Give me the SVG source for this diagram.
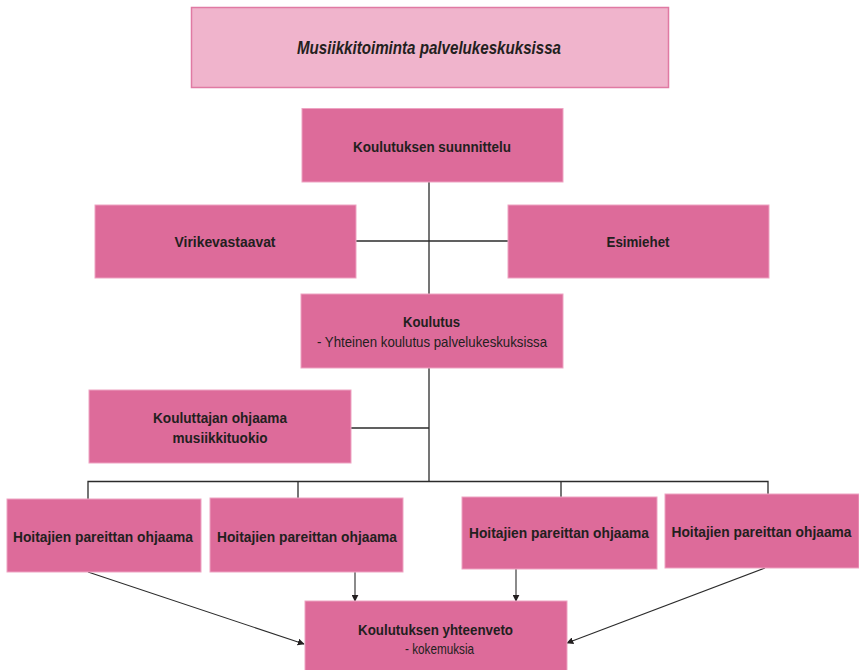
<svg xmlns="http://www.w3.org/2000/svg" width="859" height="670" viewBox="0 0 859 670">
<style>
.box{fill:#dd6b9a;stroke:#eea3c2;stroke-width:1}
.title{fill:#f0b4cc;stroke:#e07aa3;stroke-width:1.5}
text{font-family:"Liberation Sans",Arial,sans-serif;fill:#231f20;text-anchor:middle;font-size:15px}
.b{font-weight:bold}
.t{font-weight:bold;font-style:italic;font-size:18px}
.ln{stroke:#2b2b2b;stroke-width:1.3;fill:none}
.ar{stroke:#2b2b2b;stroke-width:1.1;fill:none;marker-end:url(#ah)}
</style>
<defs>
<marker id="ah" viewBox="0 0 10 10" refX="9" refY="5" markerWidth="7" markerHeight="7" markerUnits="userSpaceOnUse" orient="auto">
<path d="M0,0 L10,5 L0,10 z" fill="#231f20"/>
</marker>
</defs>
<g id="connectors">
<path class="ln" d="M429,182 V481"/>
<path class="ln" d="M356,241 H508"/>
<path class="ln" d="M351,428 H429"/>
<path class="ln" d="M88,499 V481.5 H768 V494"/>
<path class="ln" d="M298,481.5 V498"/>
<path class="ln" d="M561,481.5 V497"/>
<path class="ar" d="M88,572 L304,644"/>
<path class="ar" d="M355,572 V601"/>
<path class="ar" d="M516,569 V601"/>
<path class="ar" d="M765,568 L567,643"/>
</g>
<g id="n-title">
<rect class="title" x="191.5" y="7.5" width="477" height="80"/>
<text class="t" x="429" y="54" textLength="264" lengthAdjust="spacingAndGlyphs">Musiikkitoiminta palvelukeskuksissa</text>
</g>
<g id="n-suunnittelu">
<rect class="box" x="302" y="108.5" width="261" height="73.5"/>
<text class="b" x="432" y="152" textLength="158" lengthAdjust="spacingAndGlyphs">Koulutuksen suunnittelu</text>
</g>
<g id="n-virike">
<rect class="box" x="95" y="205" width="261" height="73"/>
<text class="b" x="225" y="247" textLength="101" lengthAdjust="spacingAndGlyphs">Virikevastaavat</text>
</g>
<g id="n-esimiehet">
<rect class="box" x="508" y="205" width="261" height="73"/>
<text class="b" x="638" y="247" textLength="63" lengthAdjust="spacingAndGlyphs">Esimiehet</text>
</g>
<g id="n-koulutus">
<rect class="box" x="301" y="294" width="262" height="74"/>
<text class="b" x="431.5" y="327" textLength="57" lengthAdjust="spacingAndGlyphs">Koulutus</text>
<text x="432" y="347" textLength="230" lengthAdjust="spacingAndGlyphs">- Yhteinen koulutus palvelukeskuksissa</text>
</g>
<g id="n-kouluttajan">
<rect class="box" x="89" y="390" width="262" height="73"/>
<text class="b" x="220" y="423" textLength="134" lengthAdjust="spacingAndGlyphs">Kouluttajan ohjaama</text>
<text class="b" x="220" y="443" textLength="95" lengthAdjust="spacingAndGlyphs">musiikkituokio</text>
</g>
<g id="n-hoitajat1">
<rect class="box" x="7" y="499" width="194" height="73"/>
<text class="b" x="103" y="542" textLength="180" lengthAdjust="spacingAndGlyphs">Hoitajien pareittan ohjaama</text>
</g>
<g id="n-hoitajat2">
<rect class="box" x="210" y="498" width="193" height="74"/>
<text class="b" x="307" y="542" textLength="180" lengthAdjust="spacingAndGlyphs">Hoitajien pareittan ohjaama</text>
</g>
<g id="n-hoitajat3">
<rect class="box" x="462" y="497" width="195" height="72"/>
<text class="b" x="559" y="538" textLength="180" lengthAdjust="spacingAndGlyphs">Hoitajien pareittan ohjaama</text>
</g>
<g id="n-hoitajat4">
<rect class="box" x="665" y="494" width="194" height="74"/>
<text class="b" x="761.5" y="537" textLength="180" lengthAdjust="spacingAndGlyphs">Hoitajien pareittan ohjaama</text>
</g>
<g id="n-yhteenveto">
<rect class="box" x="305" y="601" width="262" height="70"/>
<text class="b" x="435.5" y="635" textLength="155" lengthAdjust="spacingAndGlyphs">Koulutuksen yhteenveto</text>
<text x="439.5" y="654" textLength="69" lengthAdjust="spacingAndGlyphs">- kokemuksia</text>
</g>
</svg>
